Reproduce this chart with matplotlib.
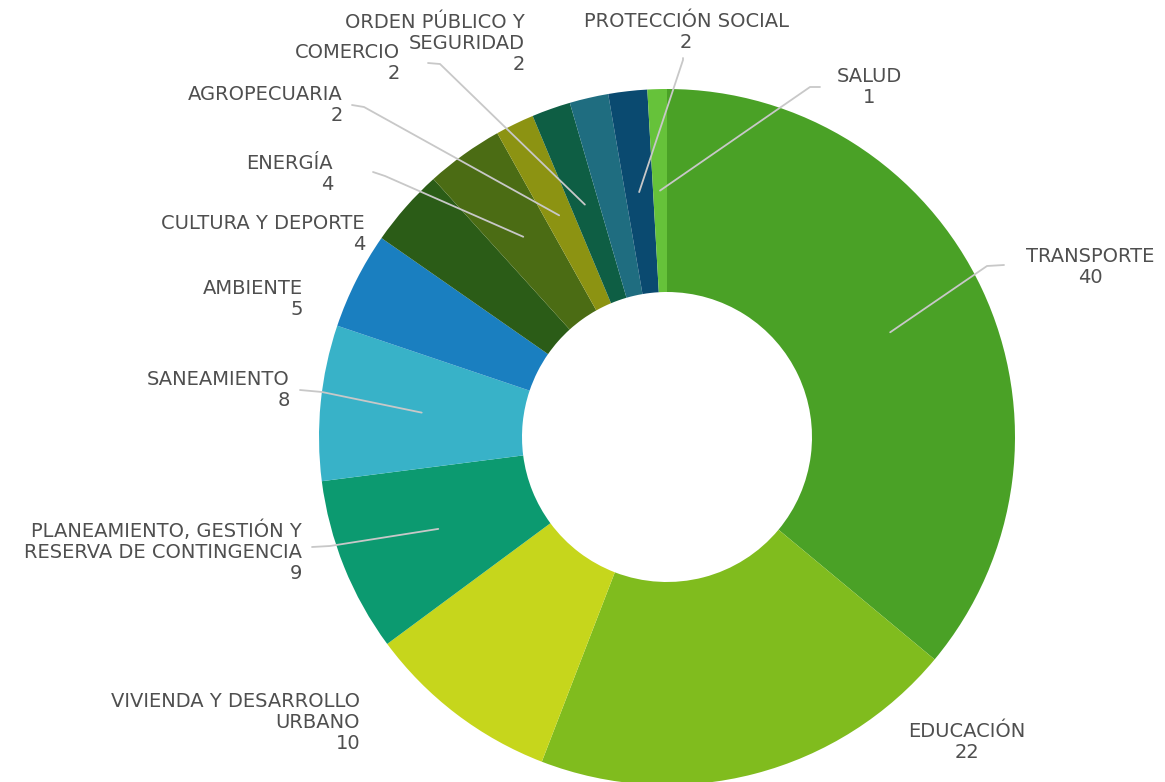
import matplotlib
matplotlib.use("Agg")
import numpy as np
import matplotlib.pyplot as plt

W, H = 1165, 782
CX, CY = 667, 437           # pie centre, pixels from top-left
R_OUT, R_IN = 348, 145

sectors = ["TRANSPORTE", "EDUCACIÓN", "VIVIENDA Y DESARROLLO\nURBANO",
           "PLANEAMIENTO, GESTIÓN Y\nRESERVA DE CONTINGENCIA", "SANEAMIENTO", "AMBIENTE",
           "CULTURA Y DEPORTE", "ENERGÍA", "AGROPECUARIA", "COMERCIO",
           "ORDEN PÚBLICO Y\nSEGURIDAD", "PROTECCIÓN SOCIAL", "SALUD"]
counts = [40, 22, 10, 9, 8, 5, 4, 4, 2, 2, 2, 2, 1]
colors = ["#4aa126", "#80bc1e", "#c6d61c", "#0c9a70", "#38b2c8", "#1a7fc0", "#2b5c17",
          "#4b6c14", "#8c9312", "#0e5e44", "#1f6d80", "#0a4a70", "#66c23a"]

# label layout: anchor x, centre y of first line, alignment (pixels from top-left)
label_pos = [(1090, 255, "center"), (967, 730, "center"), (360, 700, "right"),
             (302, 530, "right"), (290, 378, "right"), (303, 287, "right"),
             (365, 222, "right"), (333, 162, "right"), (343, 93, "right"),
             (400, 51, "right"), (525, 21, "right"), (686, 20, "center"), (869, 75, "center")]
# leader lines: label-side start and elbow; the end sits at the wedge's mid-angle
leaders = {0: ((1004, 265), (987, 266)), 12: ((820, 87), (810, 87)),
           11: ((683, 58), (683, 60)), 9: ((428, 63), (440, 64)),
           8: ((352, 105), (364, 107)), 7: ((373, 172), (385, 176)),
           4: ((300, 390), (322, 392)), 3: ((312, 547), (330, 546))}

TXT = "#4f4f4f"
LEAD = "#c8c8c8"
STEP = 21


def py(y):
    return H - y


fig = plt.figure(figsize=(W / 100, H / 100), dpi=100)
ax = fig.add_axes([0, 0, 1, 1])
wedges, _ = ax.pie(counts, colors=colors, startangle=90, counterclock=False,
                   center=(CX, py(CY)), radius=R_OUT,
                   wedgeprops=dict(width=R_OUT - R_IN, linewidth=0))
ax.set_xlim(0, W)
ax.set_ylim(0, H)
ax.set_aspect("equal")
ax.axis("off")

r_mid = (R_OUT + R_IN) / 2
for i, (start, elbow) in leaders.items():
    w = wedges[i]
    a = np.deg2rad((w.theta1 + w.theta2) / 2)
    ex, ey = CX + r_mid * np.cos(a), py(CY) + r_mid * np.sin(a)
    ax.plot([start[0], elbow[0], ex], [py(start[1]), py(elbow[1]), ey],
            color=LEAD, lw=1.3, solid_capstyle="round", zorder=5)

for name, n, (x, y0, ha) in zip(sectors, counts, label_pos):
    lines = name.split("\n") + [str(n)]
    for k, line in enumerate(lines):
        ax.text(x, py(y0 + k * STEP + 7), line, ha=ha, va="baseline",
                fontsize=14, color=TXT, family="DejaVu Sans", zorder=6)

fig.savefig("out.png", dpi=100, facecolor="white")
